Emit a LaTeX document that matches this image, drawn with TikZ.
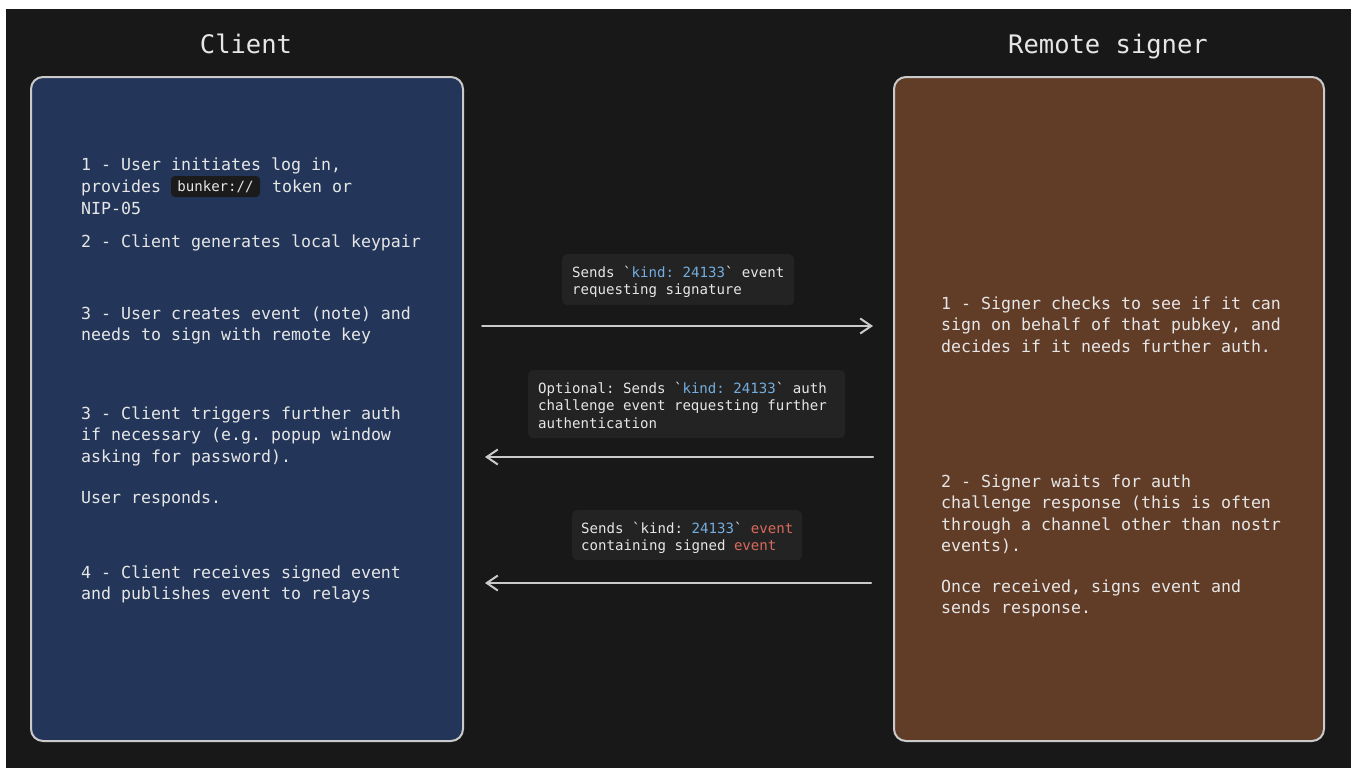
\documentclass[tikz,border=0pt]{standalone}
\usepackage{fontspec}
\setmonofont{DejaVu Sans Mono}
\usetikzlibrary{arrows.meta}
\definecolor{bg}{HTML}{181818}
\definecolor{clientfill}{HTML}{233659}
\definecolor{signerfill}{HTML}{613D28}
\definecolor{edge}{HTML}{CACACA}
\definecolor{txt}{HTML}{E6E6E6}
\definecolor{lblfill}{HTML}{232323}
\definecolor{chipfill}{HTML}{1B1B1B}
\definecolor{hlblue}{HTML}{74AEE0}
\definecolor{hlred}{HTML}{DB6A5B}
\newcommand{\bodyfont}{\ttfamily\frenchspacing\fontsize{16.6}{21.5}\selectfont}
\newcommand{\lblfont}{\ttfamily\frenchspacing\fontsize{14.1}{17.8}\selectfont}
\newcommand{\titlefont}{\ttfamily\fontsize{25.5}{30}\selectfont}
\newcommand{\bt}{\symbol{96}}
\begin{document}
\begin{tikzpicture}[x=1pt,y=-1pt,
  panel/.style={draw=edge, line width=2pt, rounded corners=12pt, anchor=north west, inner sep=0pt},
  body/.style={anchor=base west, inner sep=0pt, align=left, text=txt, font=\bodyfont},
  title/.style={anchor=base, inner sep=0pt, text=txt, font=\titlefont},
  lblbox/.style={fill=lblfill, rounded corners=5pt, anchor=north west, inner sep=0pt},
  lbltext/.style={anchor=base west, inner sep=0pt, align=left, text=txt, font=\lblfont},
  chip/.style={fill=chipfill, rounded corners=4pt, inner sep=0pt, text=txt, font=\lblfont},
  arr/.style={draw=edge, line width=2pt, line cap=round, -{Straight Barb[length=11pt,width=15pt,line width=2pt]}}
]
\useasboundingbox (0,0) rectangle (1351,768);
\fill[white] (0,0) rectangle (1351,768);
\fill[bg] (6,9) rectangle (1351,768);

% titles
\node (tclient) [title] at (246,53) {Client};
\node (tsigner) [title] at (1108,53) {Remote signer};

% panels
\node (client) [panel, fill=clientfill, minimum width=432pt, minimum height=664pt] at (30,76) {};
\node (signer) [panel, fill=signerfill, minimum width=430pt, minimum height=664pt] at (893,76) {};

% client text (multi-line nodes anchored at the baseline of their last line)
\node (c1a) [body] at (81,170) {1 - User initiates log in,};
\node (c1b) [body] at (81,192) {provides};
\node (chip) [chip, minimum width=89pt, minimum height=21pt] at (215.5,186.5) {bunker://};
\node (c1c) [body] at (272,192) {token or};
\node (c1d) [body] at (81,214) {NIP-05};
\node (c2) [body] at (81,247) {2 - Client generates local keypair};
\node (c3) [body] at (81,340.5) {3 - User creates event (note) and\\needs to sign with remote key};
\node (c4) [body] at (81,462) {3 - Client triggers further auth\\if necessary (e.g. popup window\\asking for password).};
\node (c5) [body] at (81,503) {User responds.};
\node (c6) [body] at (81,599.5) {4 - Client receives signed event\\and publishes event to relays};

% signer text
\node (s1) [body] at (941,352) {1 - Signer checks to see if it can\\sign on behalf of that pubkey, and\\decides if it needs further auth.};
\node (s2) [body] at (941,551.5) {2 - Signer waits for auth\\challenge response (this is often\\through a channel other than nostr\\events).};
\node (s3) [body] at (941,613.5) {Once received, signs event and\\sends response.};

% labels
\node (l1box) [lblbox, minimum width=232pt, minimum height=51pt] at (562,254) {};
\node (l1) [lbltext] at (572,294.8) {Sends \bt\textcolor{hlblue}{kind: 24133}\bt{} event\\requesting signature};
\node (l2box) [lblbox, minimum width=317pt, minimum height=68pt] at (528,370) {};
\node (l2) [lbltext] at (538,428.6) {Optional: Sends \bt\textcolor{hlblue}{kind: 24133}\bt{} auth\\challenge event requesting further\\authentication};
\node (l3box) [lblbox, minimum width=230pt, minimum height=50pt] at (572,510) {};
\node (l3) [lbltext] at (581,550.8) {Sends \bt kind: \textcolor{hlblue}{24133}\bt{} \textcolor{hlred}{event}\\containing signed \textcolor{hlred}{event}};

% arrows
\coordinate (a1s) at (482,326);
\coordinate (a1e) at (873,326);
\coordinate (a2s) at (873,457);
\coordinate (a2e) at (485,457);
\coordinate (a3s) at (871,583);
\coordinate (a3e) at (485,583);
\draw[arr] (a1s) -- (a1e);
\draw[arr] (a2s) -- (a2e);
\draw[arr] (a3s) -- (a3e);
\end{tikzpicture}
\end{document}
